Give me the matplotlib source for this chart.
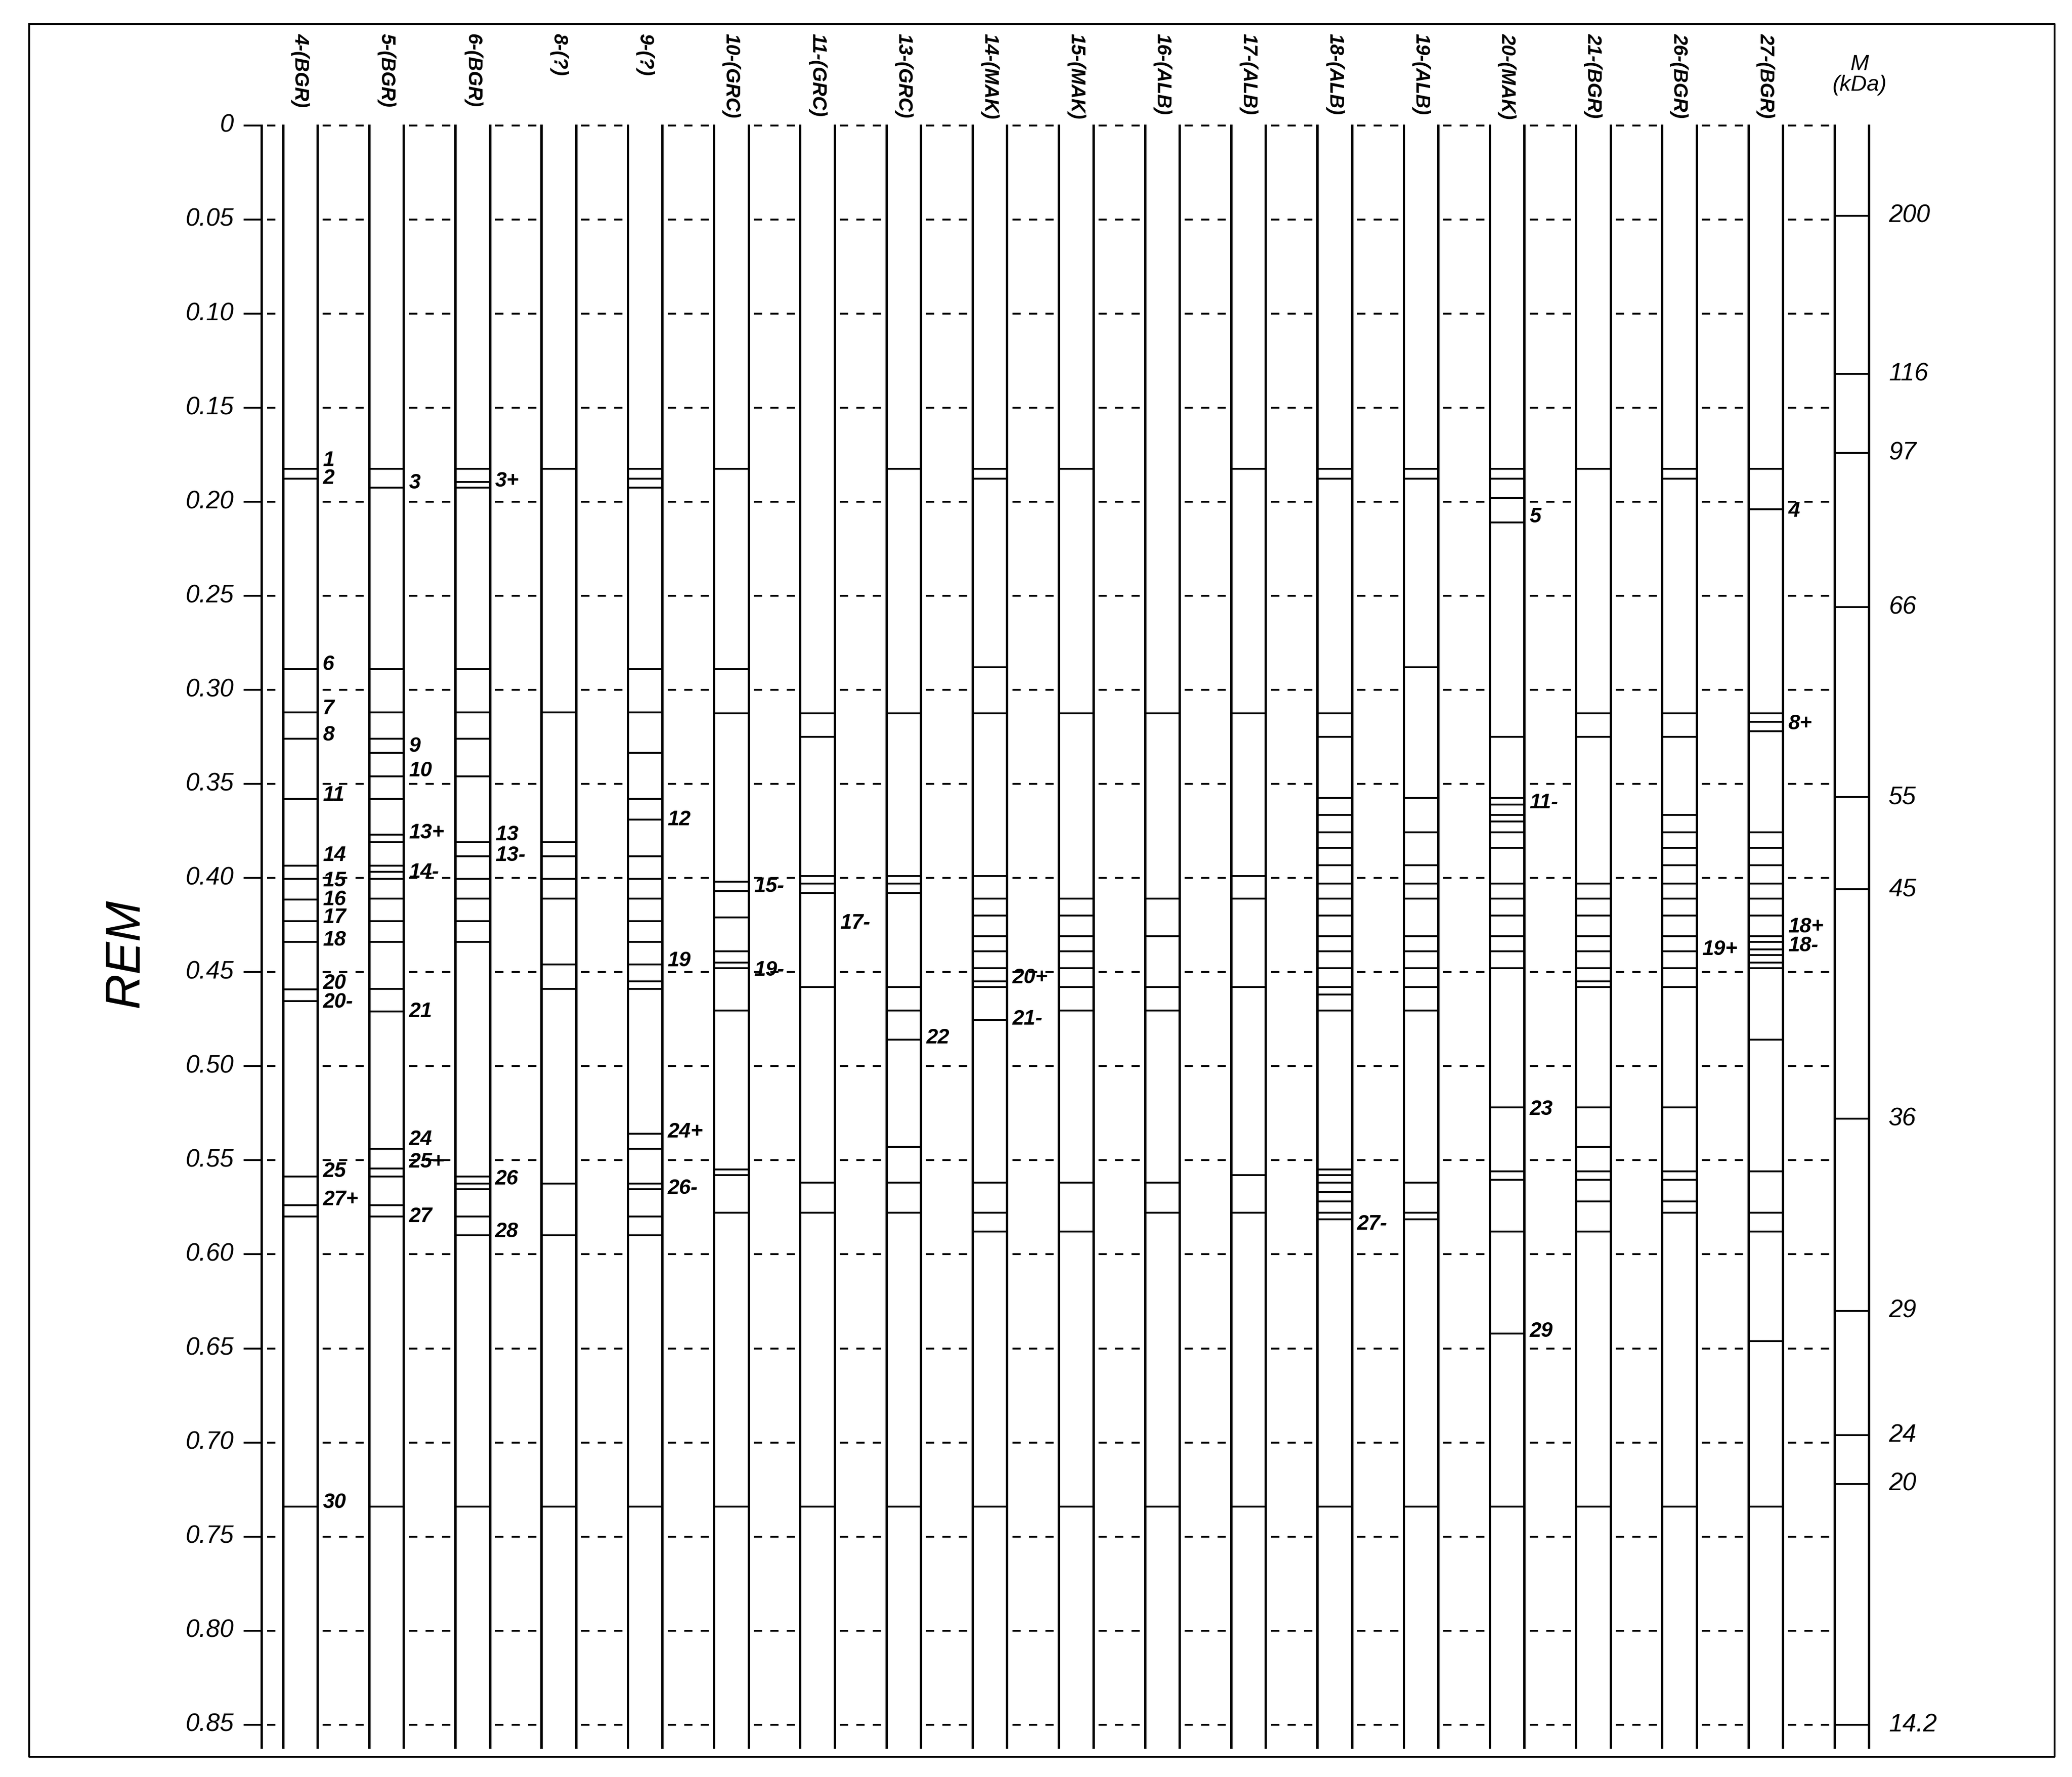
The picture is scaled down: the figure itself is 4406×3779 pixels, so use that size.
import matplotlib.pyplot as plt

plt.rcParams['font.family'] = ['Liberation Sans', 'DejaVu Sans']

# lane headers
lanes = ["4-(BGR)", "5-(BGR)", "6-(BGR)", "8-(?)", "9-(?)", "10-(GRC)", "11-(GRC)", "13-(GRC)",
         "14-(MAK)", "15-(MAK)", "16-(ALB)", "17-(ALB)", "18-(ALB)", "19-(ALB)", "20-(MAK)",
         "21-(BGR)", "26-(BGR)", "27-(BGR)"]

# band positions (REM) per lane
bands = [
    [0.1825, 0.1877, 0.289, 0.312, 0.326, 0.358, 0.3935, 0.4005, 0.4114, 0.4228, 0.434, 0.4592, 0.4654, 0.5587, 0.574, 0.580, 0.734],
    [0.1825, 0.1925, 0.289, 0.312, 0.326, 0.3335, 0.346, 0.358, 0.377, 0.381, 0.3935, 0.3966, 0.4005, 0.411, 0.423, 0.434, 0.459, 0.471, 0.544, 0.5545, 0.5587, 0.574, 0.580, 0.734],
    [0.1825, 0.1895, 0.1925, 0.289, 0.312, 0.326, 0.346, 0.381, 0.3885, 0.4005, 0.411, 0.423, 0.434, 0.5587, 0.5625, 0.5655, 0.580, 0.590, 0.734],
    [0.1825, 0.312, 0.381, 0.3885, 0.4005, 0.411, 0.446, 0.459, 0.5625, 0.590, 0.734],
    [0.1825, 0.1877, 0.1925, 0.289, 0.312, 0.3335, 0.358, 0.369, 0.3885, 0.4005, 0.411, 0.423, 0.434, 0.446, 0.455, 0.459, 0.536, 0.544, 0.5625, 0.5655, 0.580, 0.590, 0.734],
    [0.1825, 0.289, 0.3125, 0.402, 0.407, 0.421, 0.439, 0.445, 0.448, 0.4705, 0.555, 0.558, 0.578, 0.734],
    [0.3125, 0.325, 0.399, 0.403, 0.408, 0.458, 0.562, 0.578, 0.734],
    [0.1825, 0.3125, 0.399, 0.403, 0.408, 0.458, 0.4705, 0.486, 0.543, 0.562, 0.578, 0.734],
    [0.1825, 0.1877, 0.288, 0.3125, 0.399, 0.411, 0.420, 0.431, 0.439, 0.448, 0.455, 0.458, 0.4754, 0.562, 0.578, 0.588, 0.734],
    [0.1825, 0.3125, 0.411, 0.420, 0.431, 0.439, 0.448, 0.458, 0.4705, 0.562, 0.588, 0.734],
    [0.3125, 0.411, 0.431, 0.458, 0.4705, 0.562, 0.578, 0.734],
    [0.1825, 0.3125, 0.399, 0.411, 0.458, 0.558, 0.578, 0.734],
    [0.1825, 0.1877, 0.3125, 0.325, 0.3575, 0.3665, 0.3757, 0.384, 0.3933, 0.403, 0.411, 0.420, 0.431, 0.439, 0.448, 0.458, 0.462, 0.4705, 0.555, 0.558, 0.562, 0.567, 0.572, 0.578, 0.5815, 0.734],
    [0.1825, 0.1877, 0.288, 0.3575, 0.3757, 0.3933, 0.403, 0.411, 0.431, 0.439, 0.448, 0.458, 0.4705, 0.562, 0.578, 0.5815, 0.734],
    [0.1825, 0.1877, 0.198, 0.211, 0.325, 0.3575, 0.361, 0.3665, 0.370, 0.3757, 0.384, 0.403, 0.411, 0.420, 0.431, 0.439, 0.448, 0.522, 0.556, 0.5604, 0.588, 0.642, 0.734],
    [0.1825, 0.3125, 0.325, 0.403, 0.411, 0.420, 0.431, 0.439, 0.448, 0.455, 0.458, 0.522, 0.543, 0.556, 0.5604, 0.572, 0.588, 0.734],
    [0.1825, 0.1877, 0.3125, 0.325, 0.3665, 0.3757, 0.384, 0.3933, 0.403, 0.411, 0.420, 0.431, 0.439, 0.448, 0.458, 0.522, 0.556, 0.5604, 0.572, 0.578, 0.734],
    [0.1825, 0.204, 0.3125, 0.317, 0.322, 0.3757, 0.384, 0.3933, 0.403, 0.411, 0.420, 0.431, 0.434, 0.438, 0.441, 0.445, 0.448, 0.486, 0.556, 0.578, 0.588, 0.646, 0.734],
]

# band labels: (lane index, REM, text)
labels = [
    (0, 0.178, "1"), (0, 0.1875, "2"), (0, 0.2865, "6"), (0, 0.310, "7"), (0, 0.324, "8"), (0, 0.356, "11"),
    (0, 0.388, "14"), (0, 0.4015, "15"), (0, 0.4115, "16"), (0, 0.421, "17"), (0, 0.433, "18"), (0, 0.456, "20"),
    (0, 0.466, "20-"), (0, 0.556, "25"), (0, 0.571, "27+"), (0, 0.732, "30"),
    (1, 0.190, "3"), (1, 0.330, "9"), (1, 0.343, "10"), (1, 0.376, "13+"), (1, 0.397, "14-"), (1, 0.471, "21"),
    (1, 0.539, "24"), (1, 0.551, "25+"), (1, 0.580, "27"),
    (2, 0.189, "3+"), (2, 0.377, "13"), (2, 0.388, "13-"), (2, 0.560, "26"), (2, 0.588, "28"),
    (4, 0.369, "12"), (4, 0.444, "19"), (4, 0.535, "24+"), (4, 0.565, "26-"),
    (5, 0.4045, "15-"), (5, 0.449, "19-"), (6, 0.424, "17-"), (7, 0.485, "22"),
    (8, 0.453, "20+"), (8, 0.475, "21-"), (12, 0.584, "27-"),
    (14, 0.208, "5"), (14, 0.360, "11-"), (14, 0.523, "23"), (14, 0.641, "29"),
    (16, 0.438, "19+"), (17, 0.205, "4"), (17, 0.318, "8+"), (17, 0.426, "18+"), (17, 0.436, "18-"),
]

marker_rem = [0.048, 0.132, 0.174, 0.256, 0.357, 0.406, 0.528, 0.630, 0.696, 0.722, 0.850]
marker_kda = ["200", "116", "97", "66", "55", "45", "36", "29", "24", "20", "14.2"]
rem_ticks = [0, 0.05, 0.10, 0.15, 0.20, 0.25, 0.30, 0.35, 0.40, 0.45, 0.50, 0.55, 0.60, 0.65, 0.70, 0.75, 0.80, 0.85]

fig = plt.figure(figsize=(44.06, 37.79), dpi=100)
ax = fig.add_axes([0, 0, 1, 1])
ax.set_xlim(0, 1560)
ax.set_ylim((1345 - 95) / 1424, -95 / 1424)
ax.axis('off')

lane_x = [213 + 64.9 * i for i in range(19)]
lw_w = 26
bottom = 0.862
lw = 3.6
blw = 2.8

# frame
ax.plot([22, 1547, 1547, 22, 22], [-0.054, -0.054, 0.867, 0.867, -0.054], color='black', lw=2.8)
ax.plot([197, 197], [0, bottom], color='black', lw=lw)

for i, x in enumerate(lane_x):
    ax.plot([x, x], [0, bottom], color='black', lw=lw)
    ax.plot([x + lw_w, x + lw_w], [0, bottom], color='black', lw=lw)
    if i < len(lanes):
        for b in bands[i]:
            ax.plot([x, x + lw_w], [b, b], color='black', lw=blw)
        ax.text(x + lw_w / 2, -0.049, lanes[i], rotation=-90, ha='center', va='top',
                fontsize=30, style='italic', fontweight='bold')
    else:
        for b in marker_rem:
            ax.plot([x, x + lw_w], [b, b], color='black', lw=blw)
        for b, t in zip(marker_rem, marker_kda):
            ax.text(1422, b, t, ha='left', va='center', fontsize=38, style='italic')
        ax.text(x + lw_w / 2 + 6, -0.027, "M\n(kDa)", ha='center', va='center',
                fontsize=34, style='italic', linespacing=1.0)

# dashed grid in gaps
gaps = [(197, lane_x[0])] + [(lane_x[i] + lw_w, lane_x[i + 1]) for i in range(18)]
for r in rem_ticks:
    for g0, g1 in gaps:
        ax.plot([g0 + 4, g1], [r, r], color='black', lw=blw, linestyle=(0, (4.5, 4.5)))
    ax.plot([184, 197], [r, r], color='black', lw=blw)
    ax.text(176, r, f"{r:.2f}" if r else "0", ha='right', va='center', fontsize=38, style='italic')

for li, r, t in labels:
    ax.text(lane_x[li] + lw_w + 4, r, t, ha='left', va='center', fontsize=32,
            style='italic', fontweight='bold')

ax.text(95, 0.44, "REM", rotation=90, ha='center', va='center', fontsize=75, style='italic')

fig.savefig("out.png", dpi=100)
